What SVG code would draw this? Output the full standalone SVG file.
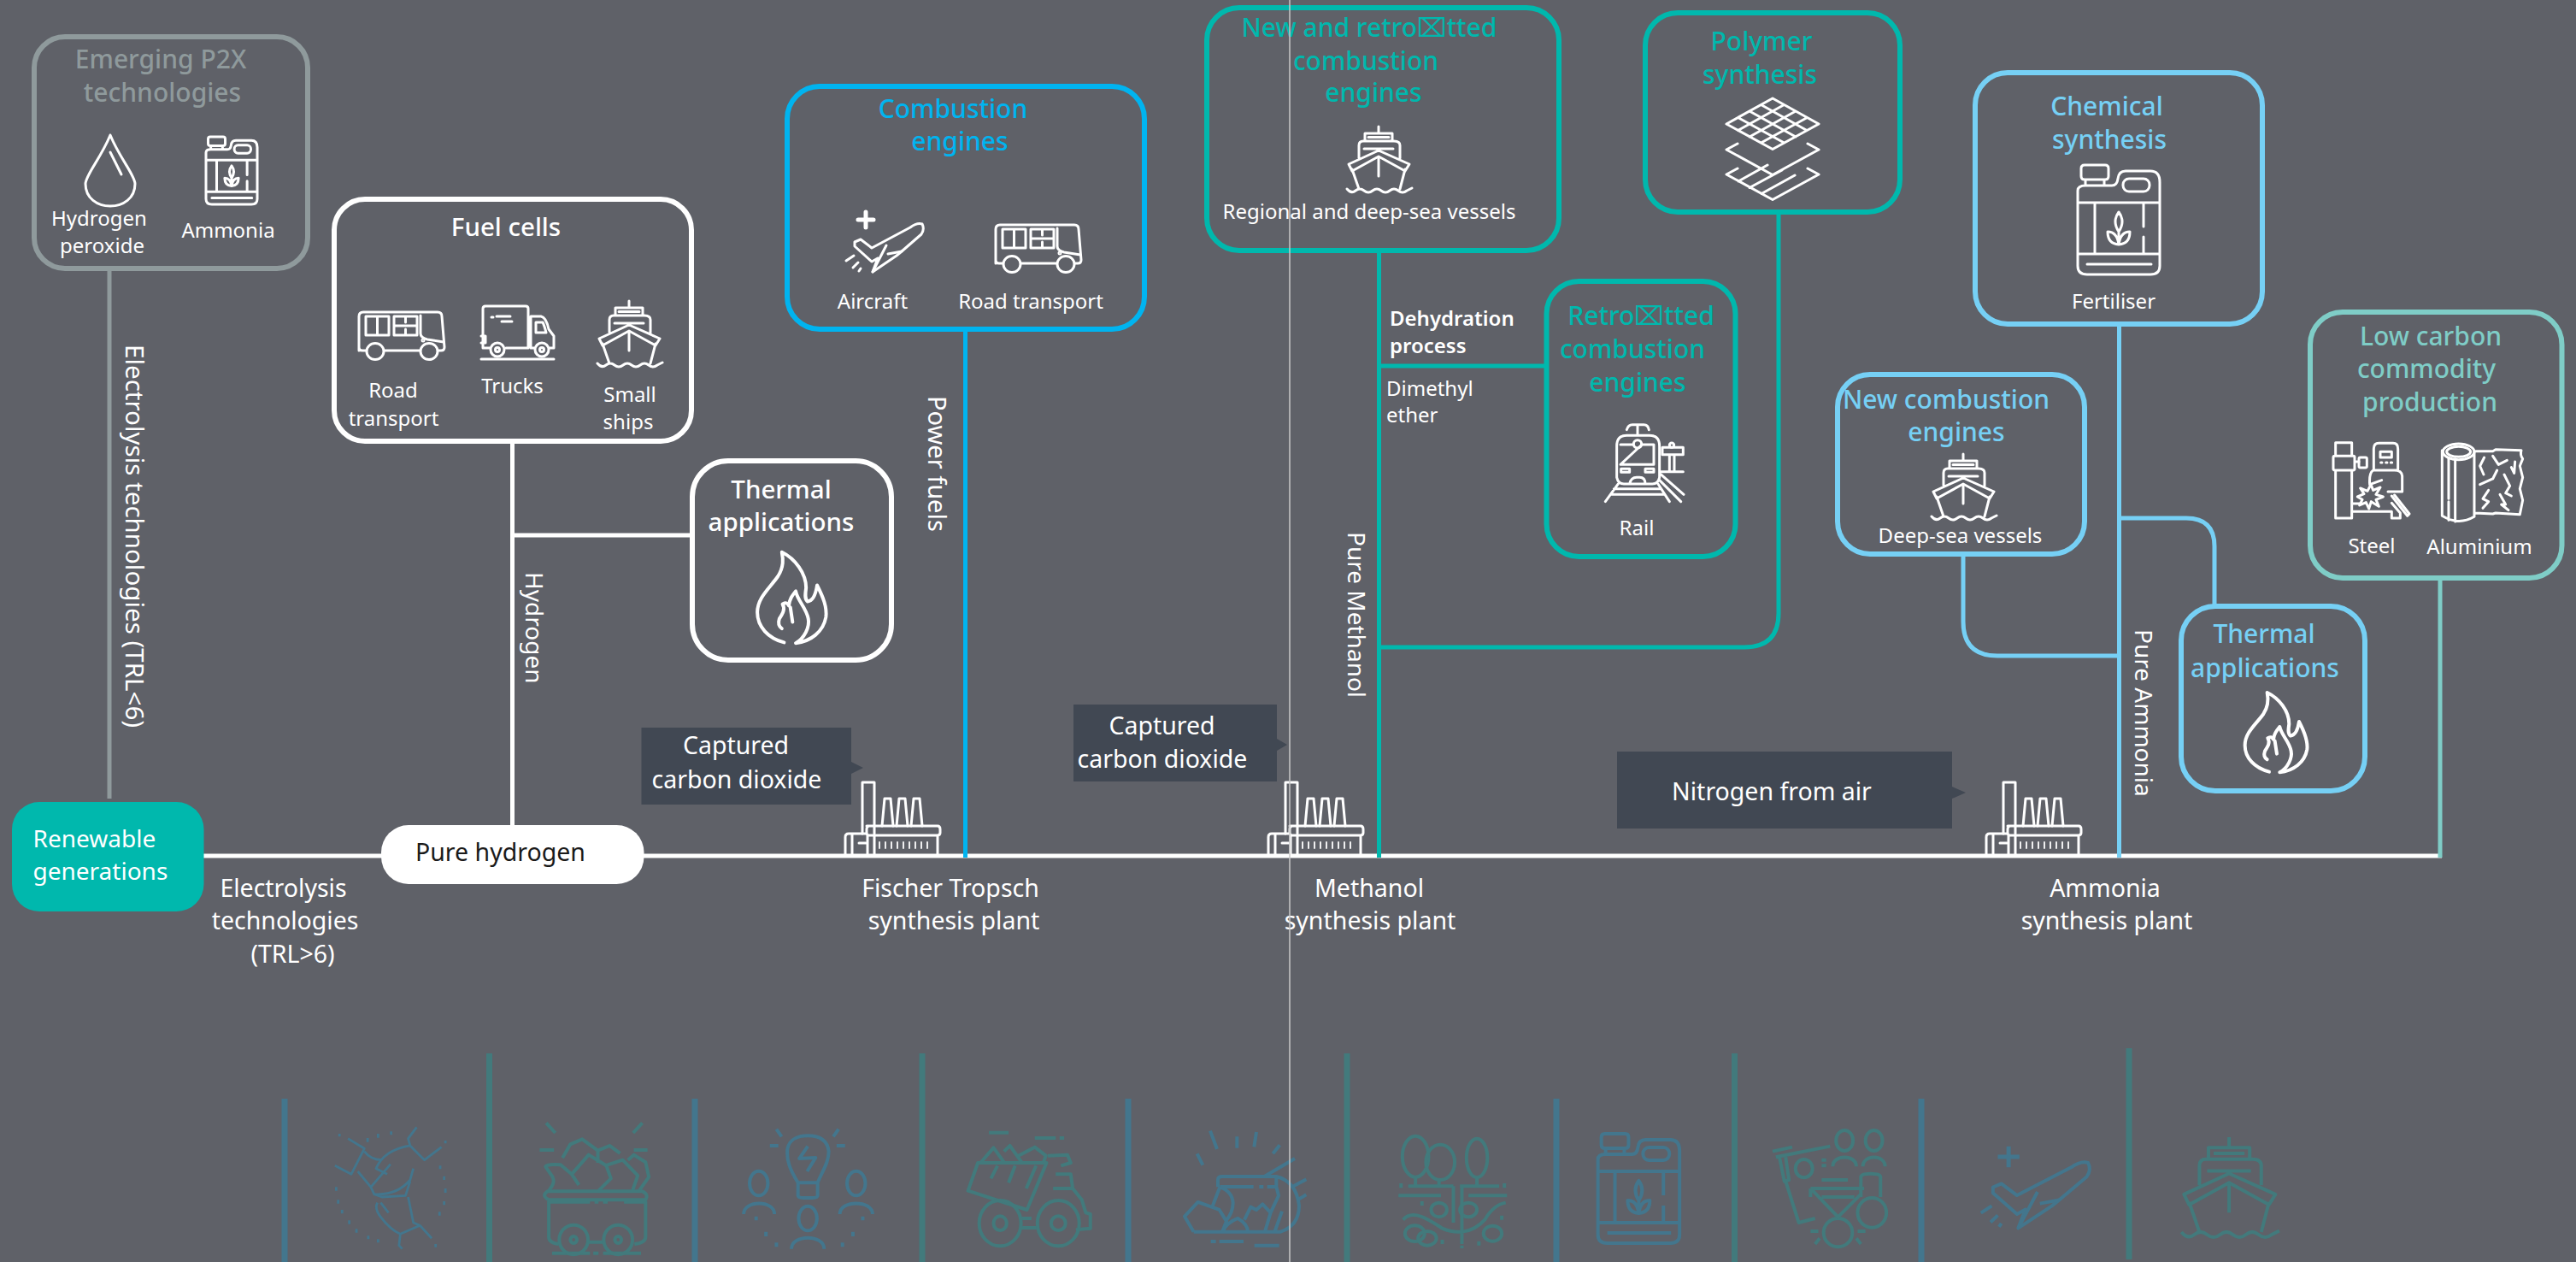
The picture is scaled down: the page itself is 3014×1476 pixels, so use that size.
<svg xmlns="http://www.w3.org/2000/svg" width="3014" height="1476" viewBox="0 0 3014 1476">
<style>
text{font-family:"Noto Sans","Open Sans","DejaVu Sans",sans-serif;fill:#fff;text-anchor:middle}
.s{font-size:24px}
.h{font-size:30px;font-weight:500}
.w{font-size:29.500px;font-weight:500}
.l{font-size:28.500px}
.v{font-size:28px;text-anchor:start}
.st{text-anchor:start}
.b{font-size:24px;font-weight:600;text-anchor:start}
.grey{fill:#8f9a9c}.teal{fill:#00b8ad}.blue{fill:#00b4f0}.pale{fill:#76d0f5}.mint{fill:#7fcdc7}
.box{fill:none;stroke-width:6}
.sgrey{stroke:#8f9a9c}.steal{stroke:#00b8ad}.sblue{stroke:#00b4f0}.spale{stroke:#76d0f5}.smint{stroke:#7fcdc7}.swhite{stroke:#fff}
.tip{fill:#414853}
.ic{fill:none;stroke:#fff;stroke-width:3;stroke-linecap:round;stroke-linejoin:round}
.ic *,.fb *,.ft *,defs *{vector-effect:non-scaling-stroke}
.fb{fill:none;stroke:#43768d;stroke-width:4;stroke-linejoin:round}
.ft{fill:none;stroke:#427a7c;stroke-width:4;stroke-linejoin:round}
.thin{stroke-width:2.800px}
.vl{stroke-width:7}
.c{fill:none;stroke-width:5}
</style>
<defs>
<g id="ship">
<path d="M37,0V8M21,8H53V17H21ZM25,12.500H49M14,37V22Q14,17 19,17H55Q62,17 62,22V37M20,26H54M37,28L2,44L6,52L37,35L68,52L73,44Z"/>
<path d="M6,50L14,73M68,50L62,73M37,36V58M0,73Q5,79 10,75T20,75T30,75T40,75T50,75T60,75T70,75L76,72"/>
</g>
<g id="can">
<path d="M4,4Q4,0 8,0H32Q36,0 36,4V13Q36,17 32,17H8Q4,17 4,13ZM9,17V24M31,17V24M0,30Q0,24 9,24H40Q46,24 47,16Q48,7 56,7H85Q96,7 96,20V118Q96,128 85,128H11Q0,128 0,118ZM0,44H96M0,104H96M20,44V104M77,44V72M77,84V104M11,116H86"/>
<rect x="53" y="16" width="31" height="15" rx="7"/>
<path d="M48,55Q56,66 48,78Q40,66 48,55ZM48,78V93M48,93Q35,92 35,78Q46,78 48,93ZM48,93Q61,92 61,78Q50,78 48,93Z"/>
</g>
<g id="bus">
<path d="M0,46V6Q0,1 5,1H92Q97,1 97,6L100,42Q100,46 96,46H93M71,46H30M8,46H4Q0,46 0,42"/>
<path d="M8,6H35V28H8ZM21.500,6V28M41,6H68V28H41ZM54.500,6V13M54.500,21V28M41,17H68M72,5V26Q72,31 80,33L99,36"/>
<ellipse cx="19" cy="47" rx="10" ry="9.500"/><ellipse cx="82" cy="47" rx="10" ry="9.500"/>
<circle cx="75" cy="34" r="1"/>
</g>
<g id="plane">
<path d="M26,1V19M17,10H35" stroke-width="5"/>
<path d="M78,19Q86,13 92,15Q95,21 91,27L68,47L62,52L34,71L40,55L33,59L13,41L13,36L20,33L33,43Z"/>
<path d="M50,40L34,71M68,47L52,50"/>
<path d="M12,52L3,58M17,60L11,66M20,67L18,70"/>
</g>
<path id="flame" d="M555,938C505,925 470,890 470,845C470,800 510,770 535,735C555,705 552,680 548,660C590,680 625,725 625,770C622,790 620,805 630,812C645,810 655,795 660,762C680,800 692,830 688,860C680,905 640,935 592,940C620,925 637,890 632,865C625,830 598,810 592,780C580,795 572,805 570,825C565,815 560,815 550,820C560,835 550,850 540,865C535,880 540,890 548,895M582,875L575,830"/>
<g id="factory">
<path d="M20,62V2H34V62M43,53L46,21H53L56,53M60,53L63,21H70L73,53M77,53L80,21H87L90,53"/>
<path d="M25,53H108Q111,53 111,57V61Q111,64 107,64H28Q25,64 25,61V57Q25,53 28,53ZM26,64V86M34,64V86M108,64V86M0,86V66Q0,62 4,62H24M8,62V86M16,73H24"/>
<path d="M40,72V79M47,72V79M54,72V79M61,72V79M68,72V79M75,72V79M82,72V79M89,72V79M96,72V79" stroke-width="1.800"/>
</g>
</defs>
<rect width="3014" height="1476" fill="#5f6168"/>

<g id="faded-icons">
<path class="fb vl" d="M333,1285V1476M813,1285V1476M1320,1285V1476M1821,1285V1476M2248,1285V1476"/>
<path class="ft vl" d="M572.500,1232V1476M1079,1232V1476M1576,1232V1476M2029.500,1232V1476M2491,1226V1473"/>
<g transform="translate(300 1200) scale(.7653 .3333)">
<g class="fb">
<g class="thin">
<path d="M140,395L165,430L145,520L120,490M165,440Q175,470 192,470M245,355L232,395L235,420L257,470L283,425M235,420Q195,435 183,500L200,520M205,485L175,565L180,590Q215,595 235,540L240,500M180,590L192,600L228,595L235,545M185,620Q180,640 190,670Q205,715 220,730L250,700L268,745M220,730L218,770L223,782M190,620L202,655M232,600L240,690L250,700M175,565L155,510"/>
<path d="M127,378V388M170,393V407M186,378V392M206,370V382M289,402V412M281,490V502M287,527V540M289,570V585M287,615V628M280,652V665M122,565V578M125,610V623M131,645V658M142,682V695M153,712V725M171,736V748M186,748V760M274,765V776"/>
</g>
<ellipse cx="768" cy="552" rx="14" ry="43"/><ellipse cx="917" cy="552" rx="14" ry="43"/><ellipse cx="843" cy="675" rx="14" ry="43"/>
<path d="M745,660C745,610 792,610 792,660M892,660C892,610 942,610 942,660M818,782C818,730 868,730 868,782M828,550C815,500 810,470 812,430C815,395 830,385 843,385C860,385 873,400 875,440C875,480 865,510 858,550V595Q858,603 850,603H836Q828,603 828,595ZM828,550H858M843,422L830,465L855,462L842,510M795,362L803,388M890,362L882,388M785,420H798M887,420H900M764,668V682M927,668V682M779,722V738M912,722V738M795,760V775M896,760V775"/>
</g>
<g class="ft">
<path d="M468,463L480,415L498,397L522,437L540,420L556,447M522,437V480M447,578C455,555 457,540 450,520L442,493Q445,483 465,487L482,520L508,452L535,490L542,535L523,578M482,520L493,558M533,490L560,470L583,525L575,578M568,470L577,452L595,478L600,530L585,578M443,340L457,375M590,340L576,375M433,435H455M577,435H598"/>
<path d="M445,580H590Q600,590 595,610H447Q435,595 445,580ZM447,615V740Q447,760 462,765M595,615V740Q595,760 578,765M445,617H510M517,617H523M530,617H537M562,617H595M505,758H533M452,797H510M515,797H523M530,797H588"/>
<ellipse cx="485" cy="750" rx="22" ry="52"/><ellipse cx="553" cy="750" rx="22" ry="52"/>
<ellipse cx="485" cy="750" rx="5" ry="12"/><ellipse cx="553" cy="750" rx="5" ry="12"/>
<path d="M1103,480H1208L1178,645L1088,578ZM1107,480L1127,427L1143,478M1143,440L1152,420L1170,478M1165,455L1190,425L1207,455L1203,480M1133,490L1123,535M1160,490L1150,550M1192,490L1177,570M1210,455L1240,452L1245,480L1230,490M1222,520L1245,520L1248,570L1262,610L1268,655L1275,660V710L1253,715M1120,374H1150M1190,393H1222M1228,393H1235M1218,570H1250M1168,675H1185M1168,708H1195"/>
<ellipse cx="1137" cy="692" rx="32" ry="80"/><ellipse cx="1137" cy="692" rx="10" ry="25"/>
<ellipse cx="1226" cy="692" rx="32" ry="80"/><ellipse cx="1226" cy="692" rx="11" ry="25"/>
</g>
</g>
<g class="fb" transform="translate(1370 1300) scale(.3333)">
<path d="M138,68L162,132M232,88V128M300,72L292,124M382,118L358,148M92,148L112,188M328,228L435,165M165,265V240Q165,228 180,228H370V265M172,264H290M310,264H325M338,264H372M172,265L147,330M172,265Q215,280 218,320Q218,355 192,385M80,422L48,368L95,318L170,345L195,385L180,422M80,422H385Q450,400 450,330Q440,245 370,228M258,380L280,335L300,345L322,325L350,355L330,422M370,264L378,295L350,355M182,422Q195,390 235,375Q270,395 270,422M390,350L365,420M425,265L475,238M445,310L475,292M140,456H158M170,456H255M293,470H380"/>
</g>
<g transform="translate(1500 1200) scale(.7653 .3333)">
<g class="ft">
<ellipse cx="204" cy="458" rx="20" ry="72"/><ellipse cx="242" cy="478" rx="22" ry="62"/><ellipse cx="298" cy="463" rx="16" ry="68"/>
<ellipse cx="240" cy="645" rx="12" ry="25"/><ellipse cx="285" cy="645" rx="13" ry="25"/><ellipse cx="203" cy="728" rx="15" ry="28"/><ellipse cx="222" cy="745" rx="14" ry="25"/><ellipse cx="322" cy="728" rx="14" ry="27"/>
<path d="M204,530V560M240,540V565M298,530V560M193,562H262M272,562H332M182,552V568M340,552V568M178,595H243M285,595H344M262,562V690M275,562V765M185,680C200,640 225,680 245,710C265,730 290,730 310,680C320,640 330,625 342,620M214,615V630M336,665V680M245,750V765M301,755V770M275,770V780"/>
<ellipse cx="860" cy="402" rx="13" ry="36"/><ellipse cx="905" cy="402" rx="13" ry="36"/><ellipse cx="798" cy="500" rx="13" ry="32"/>
<ellipse cx="850" cy="725" rx="22" ry="50"/><ellipse cx="902" cy="655" rx="22" ry="52"/>
<path d="M842,493C842,450 878,450 878,493M888,493C888,450 922,450 922,493M750,440L780,425M755,460L838,422M760,455L768,545L775,540L770,460M770,545L790,690L815,675M825,470H832M825,490H832M825,540H865M808,570H890M808,570L850,670L885,590M808,570V600M885,600V530Q885,518 900,518Q915,518 915,530V600M825,600H875M808,720H820M880,720H892M815,765L822,745M885,765L878,745"/>
</g>
<use class="fb" href="#can" transform="translate(483 378) scale(1.3 3)"/>
<use class="fb" href="#plane" transform="translate(1063 418) scale(1.84 4.1)"/>
<use class="ft" href="#ship" transform="translate(1375 390) scale(1.97 4.56)"/>
</g>
</g>

<g id="connectors">
<path class="c swhite" d="M238,1001H2857" stroke-width="5.500"/>
<path class="c sgrey" d="M128,317V934"/>
<path class="c swhite" d="M599.500,518V965M602,626H808"/>
<path class="c sblue" d="M1129.500,387V1003"/>
<path class="c steal" d="M1613.500,295V1003M1613.500,428H1808M1613.500,757H2041Q2081,757 2081,717V250"/>
<path class="c spale" d="M2479.500,381V1003M2297,650V727Q2297,767 2337,767H2479.500M2479.500,606H2558Q2591,606 2591,639V707"/>
<path class="c smint" d="M2855,678V1003"/>
</g>

<g id="n-p2x">
<rect class="box sgrey" x="40" y="43" width="320" height="271" rx="36"/>
<text class="h grey" x="188" y="80">Emerging P2X</text>
<text class="h grey" x="190" y="119">technologies</text>
<path class="ic" d="M129,158C118,185 100,205 100,215C100,232 114,241 129,241C144,241 158,232 158,215C158,205 140,185 129,158ZM129,178L142,204"/>
<use class="ic" href="#can" transform="translate(241 160) scale(.625 .617)"/>
<text class="s" x="116" y="264">Hydrogen</text>
<text class="s" x="119.500" y="296">peroxide</text>
<text class="s" x="267" y="278">Ammonia</text>
</g>
<text id="lbl-electrolysis-v" class="v" style="font-size:29.500px" transform="translate(147 403) rotate(90)">Electrolysis technologies (TRL&lt;6)</text>

<g id="n-fuelcells">
<rect class="box swhite" x="391" y="233" width="418" height="283" rx="36"/>
<text class="w" x="592" y="276">Fuel cells</text>
<use class="ic" href="#bus" transform="translate(420 364)"/>
<g class="ic" transform="translate(563 357)"><path d="M10,50H2V4Q2,1 5,1H52Q55,1 55,4V50H29M12,14H14M18,13H34M24,19H36M58,13H70Q76,14 79,28L85,36V50H80M58,13V50H62M64,20H72Q74,24 76,32H64ZM0,36H5V44H0M0,63H85"/><circle cx="19" cy="52" r="8"/><circle cx="19" cy="52" r="2.500"/><circle cx="71" cy="52" r="8"/><circle cx="71" cy="52" r="2.500"/></g>
<use class="ic" href="#ship" transform="translate(699 352)"/>
<text class="s" x="460" y="465">Road</text><text class="s" x="460.500" y="497.500">transport</text>
<text class="s" x="599.500" y="459.500">Trucks</text>
<text class="s" x="737" y="470">Small</text><text class="s" x="735" y="502">ships</text>
</g>
<text id="lbl-hydrogen" class="v" transform="translate(615 669) rotate(90)">Hydrogen</text>

<g id="n-thermal1">
<rect class="box swhite" x="810" y="539" width="233" height="233" rx="42"/>
<text class="w" x="914" y="583">Thermal</text><text class="w" x="914" y="621">applications</text>
<use class="ic" style="stroke-width:4" href="#flame" transform="translate(885 645) scale(.368 .38) translate(-467 -658)"/>
</g>

<g id="n-renewable">
<rect x="14" y="938" width="224.500" height="128" rx="32" fill="#00b8ad"/>
<text class="l st" style="font-size:28px" x="38.500" y="991">Renewable</text><text class="l st" style="font-size:28px" x="38.500" y="1029">generations</text>
</g>
<g id="n-purehydrogen">
<rect x="446" y="965" width="307.500" height="69" rx="32" fill="#fff"/>
<text class="l st" x="486" y="1007" style="fill:#1a1a1a">Pure hydrogen</text>
</g>
<g id="lbl-electrolysis-h">
<text class="l" x="331.500" y="1049">Electrolysis</text><text class="l" x="333.500" y="1087">technologies</text><text class="l" x="342.500" y="1126">(TRL&gt;6)</text>
</g>

<g id="n-co2a"><path class="tip" d="M750.500,851H996V891L1010,898L996,905V941H750.500Z"/>
<text class="l" x="861" y="882">Captured</text><text class="l" x="862" y="922">carbon dioxide</text></g>
<g id="n-co2b"><path class="tip" d="M1256,824H1494V864L1506,871L1494,878V914H1256Z"/>
<text class="l" x="1359.500" y="859">Captured</text><text class="l" x="1360" y="898">carbon dioxide</text></g>
<g id="n-n2"><path class="tip" d="M1892,879H2284V920L2300,927L2284,934V969H1892Z"/>
<text class="l" x="2073" y="936">Nitrogen from air</text></g>

<g id="n-plant-ft"><use class="ic" href="#factory" transform="translate(989 913)"/>
<text class="l" x="1112" y="1049">Fischer Tropsch</text><text class="l" x="1116" y="1087">synthesis plant</text></g>
<g id="n-plant-meoh"><use class="ic" href="#factory" transform="translate(1484 913)"/>
<text class="l" x="1602" y="1049">Methanol</text><text class="l" x="1603" y="1087">synthesis plant</text></g>
<g id="n-plant-nh3"><use class="ic" href="#factory" transform="translate(2324 913)"/>
<text class="l" x="2463" y="1049">Ammonia</text><text class="l" x="2465" y="1087">synthesis plant</text></g>

<g id="n-combustion">
<rect class="box sblue" x="921" y="101" width="418" height="284" rx="38"/>
<text class="h blue" x="1115" y="138">Combustion</text><text class="h blue" x="1123" y="176">engines</text>
<use class="ic" href="#plane" transform="translate(987 247)"/>
<use class="ic" href="#bus" transform="translate(1165 262)"/>
<text class="s" x="1021" y="361">Aircraft</text><text class="s" x="1206" y="361">Road transport</text>
</g>
<text id="lbl-powerfuels" class="v" style="font-size:29px" transform="translate(1086 463) rotate(90)">Power fuels</text>

<g id="n-newretro">
<rect class="box steal" x="1412" y="9" width="412" height="284" rx="38"/>
<text class="h teal" x="1602" y="43">New and retro⌧tted</text><text class="h teal" x="1598" y="82">combustion</text><text class="h teal" x="1607" y="119">engines</text>
<use class="ic" href="#ship" transform="translate(1576 148)"/>
<text class="s" x="1602" y="256">Regional and deep-sea vessels</text>
</g>
<g id="lbl-dehydration"><text class="b" x="1626" y="381">Dehydration</text><text class="b" x="1626" y="413">process</text>
<text class="s st" x="1622" y="463">Dimethyl</text><text class="s st" x="1622" y="494">ether</text></g>
<text id="lbl-puremethanol" class="v" transform="translate(1577 622) rotate(90)">Pure Methanol</text>

<g id="n-retro">
<rect class="box steal" x="1809.500" y="329" width="221" height="322" rx="38"/>
<text class="h teal" x="1920" y="380">Retro⌧tted</text><text class="h teal" x="1910" y="419">combustion</text><text class="h teal" x="1916" y="458">engines</text>
<g class="ic" transform="translate(1860 480) scale(.3333)">
<path d="M95,235V125Q95,88 130,88H210Q245,88 245,125V235Q240,258 220,258H120Q100,258 95,235ZM108,120H153M183,120H225V190H108ZM110,205H140V217H110ZM195,205H225V217H195ZM140,258Q145,235 165,235H175Q195,235 195,258M130,68Q135,50 150,50H190Q205,50 208,68M168,50V85M100,258L55,320M240,258L280,320M85,275H250M75,295H262M250,225L330,295M245,245L320,320M255,130H328V155H255ZM280,155V213M297,155V213M250,215H328"/>
<circle cx="168" cy="118" r="14"/><circle cx="288" cy="122" r="8"/>
</g>
<text class="s" x="1915" y="626">Rail</text>
</g>

<g id="n-polymer">
<rect class="box steal" x="1925" y="15" width="298" height="233" rx="38"/>
<text class="h teal" x="2061" y="59">Polymer</text><text class="h teal" x="2059" y="98">synthesis</text>
<g class="ic">
<path d="M2074,115L2128,145L2074,174.500L2020,145ZM2060.500,122.500L2114,152.500M2047,130L2101,160M2033.500,137.500L2087.500,167M2087.500,122.500L2033.500,152.500M2101,130L2047,160M2114.500,137.500L2060.500,167"/>
<path d="M2033,168L2020,175L2074,204.500L2128,175L2115,168M2033,197L2020,204L2074,233.500L2128,204L2115,197M2034,212L2068,193M2047,219.500L2085,199M2061,226.500L2100,205"/>
</g>
</g>

<g id="n-chemical">
<rect class="box spale" x="2311" y="85" width="336" height="294" rx="38"/>
<text class="h pale" x="2465" y="135">Chemical</text><text class="h pale" x="2468" y="174">synthesis</text>
<use class="ic" href="#can" transform="translate(2431 193)"/>
<text class="s" x="2473" y="361">Fertiliser</text>
</g>

<g id="n-newcombustion">
<rect class="box spale" x="2150" y="438" width="289" height="210" rx="38"/>
<text class="h pale" x="2277" y="478">New combustion</text><text class="h pale" x="2289" y="516">engines</text>
<use class="ic" href="#ship" transform="translate(2260 531)"/>
<text class="s" x="2293.500" y="635">Deep-sea vessels</text>
</g>

<g id="n-thermal2">
<rect class="box spale" x="2552" y="709" width="215" height="216" rx="40"/>
<text class="h pale" x="2649" y="752">Thermal</text><text class="h pale" x="2650" y="792">applications</text>
<use class="ic" style="stroke-width:4" href="#flame" transform="translate(2470 590) scale(.3333)"/>
</g>
<text id="lbl-pureammonia" class="v" transform="translate(2498 736) rotate(90)">Pure Ammonia</text>

<g id="n-lowcarbon">
<rect class="box smint" x="2703" y="365" width="294.500" height="311" rx="38"/>
<text class="h mint" x="2844" y="404">Low carbon</text><text class="h mint" x="2839" y="442">commodity</text><text class="h mint" x="2843" y="481">production</text>
<g class="ic" transform="translate(2720 505) scale(.3333)">
<path d="M38,85V38H95V85M36,85H100Q105,85 105,90V130Q105,135 100,135H36Q30,135 30,130V90Q30,85 36,85ZM38,135V303H95V135M105,105H120M95,252H130M95,280H235V303H265V285L235,250M235,225L290,295L297,288L245,222M172,135V60Q172,40 190,40H240Q257,40 257,60V135M172,135H257M170,135Q155,145 158,185M158,185L200,170M245,135Q270,135 272,155V210H222"/>
<rect x="120" y="90" width="28" height="36" rx="5"/><rect x="195" y="70" width="40" height="20"/>
<path d="M197,108H201M215,108H219M232,108H236M162,185L170,205L195,195L180,220L205,228L180,238L190,262L163,245L155,270L145,248L122,258L132,238L115,228L138,218L125,198L150,208Z"/>
<ellipse cx="470" cy="70" rx="55" ry="28"/><ellipse cx="470" cy="70" rx="42" ry="18"/>
<path d="M412,65V295Q470,330 525,298V70M435,92V235M435,245V310M458,95V315M530,68L590,68L600,62L690,65Q685,80 695,95L685,120L695,160L685,200L695,240L685,290L600,285L590,288L528,285M560,90L545,120L558,150M590,85L610,115L640,100M655,125L665,145L668,105M630,150L650,190L635,215L655,225M605,135L590,165L545,185M575,205L555,235L575,245L555,268M615,220L635,255L620,255L645,275"/>
</g>
<text class="s" x="2775" y="647">Steel</text><text class="s" x="2901" y="648">Aluminium</text>
</g>

<path id="guide" d="M1509,0V1476" stroke="#c9c9c9" stroke-width="1.500" fill="none"/>
</svg>
